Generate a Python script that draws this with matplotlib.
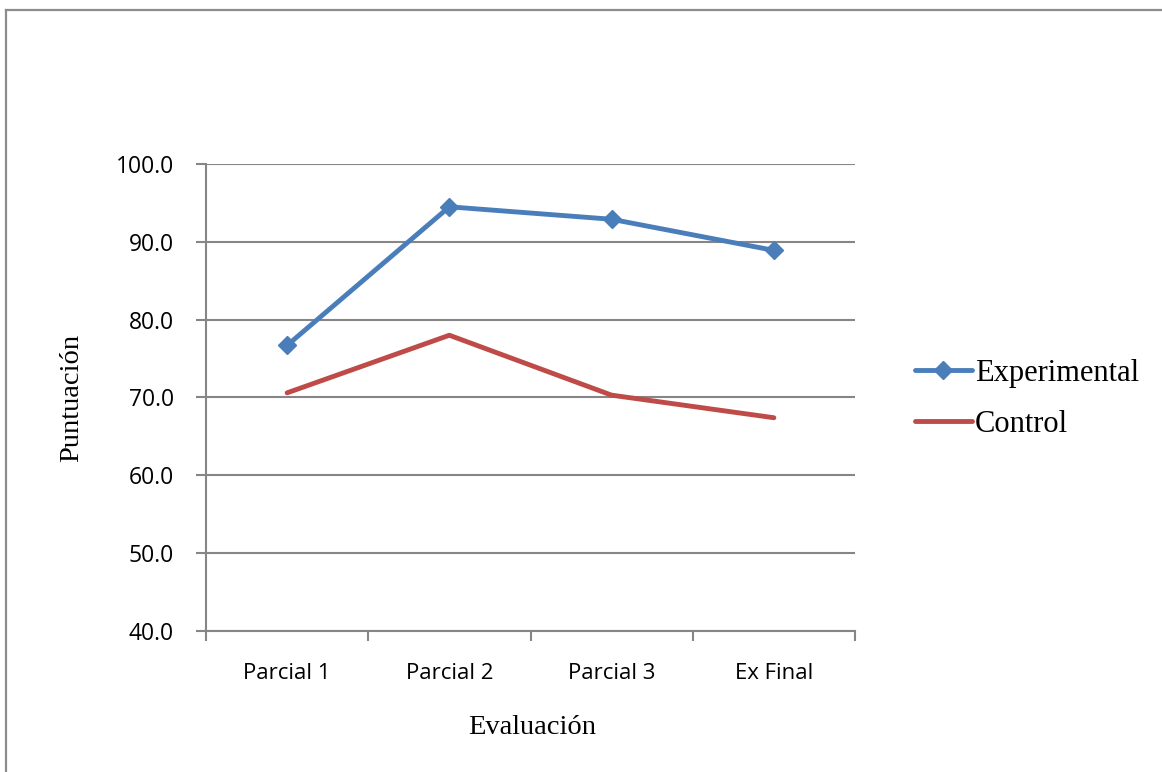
import matplotlib
matplotlib.use("Agg")
import matplotlib.pyplot as plt
from matplotlib.lines import Line2D

# Data
categories = ["Parcial 1", "Parcial 2", "Parcial 3", "Ex Final"]
experimental = [76.7, 94.5, 92.9, 88.9]
control = [70.6, 78.0, 70.3, 67.4]
y_ticks = [40, 50, 60, 70, 80, 90, 100]

BLUE = "#4A7EBB"
RED = "#BE4B48"
GRID = "#868686"

W, H = 1162, 772
fig = plt.figure(figsize=(W / 100, H / 100), dpi=100)
fig.patch.set_facecolor("white")

# Outer chart frame (top and left edges)
fig.add_artist(Line2D([6 / W, 6 / W], [0, 1 - 10 / H], transform=fig.transFigure,
                      color="#8C8C8C", lw=1.6))
fig.add_artist(Line2D([6 / W, 1], [1 - 10 / H, 1 - 10 / H], transform=fig.transFigure,
                      color="#8C8C8C", lw=1.6))

left, right, top, bottom = 206, 855, 164, 631
ax = fig.add_axes([left / W, 1 - bottom / H, (right - left) / W, (bottom - top) / H])

x = list(range(len(categories)))
ax.plot(x, experimental, color=BLUE, lw=3.5, marker="D", markersize=9.5,
        markeredgecolor=BLUE, markerfacecolor=BLUE, solid_capstyle="round",
        label="Experimental", zorder=3)
ax.plot(x, control, color=RED, lw=3.5, solid_capstyle="round",
        label="Control", zorder=3)

ax.set_xlim(-0.5, len(categories) - 0.5)
ax.set_ylim(40, 100)
ax.set_yticks(y_ticks)
ax.set_yticklabels([f"{v:.1f}" for v in y_ticks], fontfamily="Open Sans", fontsize=16.5)
ax.set_xticks(x)
ax.set_xticklabels(categories, fontfamily="Open Sans", fontsize=16)
ax.set_xticks([i - 0.5 for i in range(len(categories) + 1)], minor=True)

ax.grid(axis="y", color=GRID, lw=1.5, zorder=1)
ax.set_axisbelow(True)
for side in ("top", "right"):
    ax.spines[side].set_visible(False)
for side in ("left", "bottom"):
    ax.spines[side].set_color(GRID)
    ax.spines[side].set_linewidth(1.5)

ax.tick_params(axis="y", direction="out", length=7, width=1.5, color=GRID, pad=16)
ax.tick_params(axis="x", which="major", length=0, pad=23)
ax.tick_params(axis="x", which="minor", direction="out", length=7, width=1.5, color=GRID)

ax.set_xlabel("Evaluación", fontfamily="Liberation Serif", fontsize=20.5)
ax.set_ylabel("Puntuación", fontfamily="Liberation Serif", fontsize=20.5)
ax.xaxis.set_label_coords(((597 + 467) / 2 - left) / (right - left),
                          -(727 - bottom) / (bottom - top), transform=ax.transAxes)
ax.yaxis.set_label_coords(-(left - 72) / (right - left), 0.5, transform=ax.transAxes)
ax.xaxis.label.set_verticalalignment("center")
ax.yaxis.label.set_verticalalignment("center")

leg = ax.legend(loc="center left", bbox_to_anchor=(915 / W, 1 - 399 / H),
                bbox_transform=fig.transFigure, frameon=False,
                prop={"family": "Liberation Serif", "size": 22},
                handlelength=1.85, handletextpad=0.1, labelspacing=0.72,
                borderaxespad=0, borderpad=0)

fig.savefig("out.png", dpi=100, facecolor="white")
